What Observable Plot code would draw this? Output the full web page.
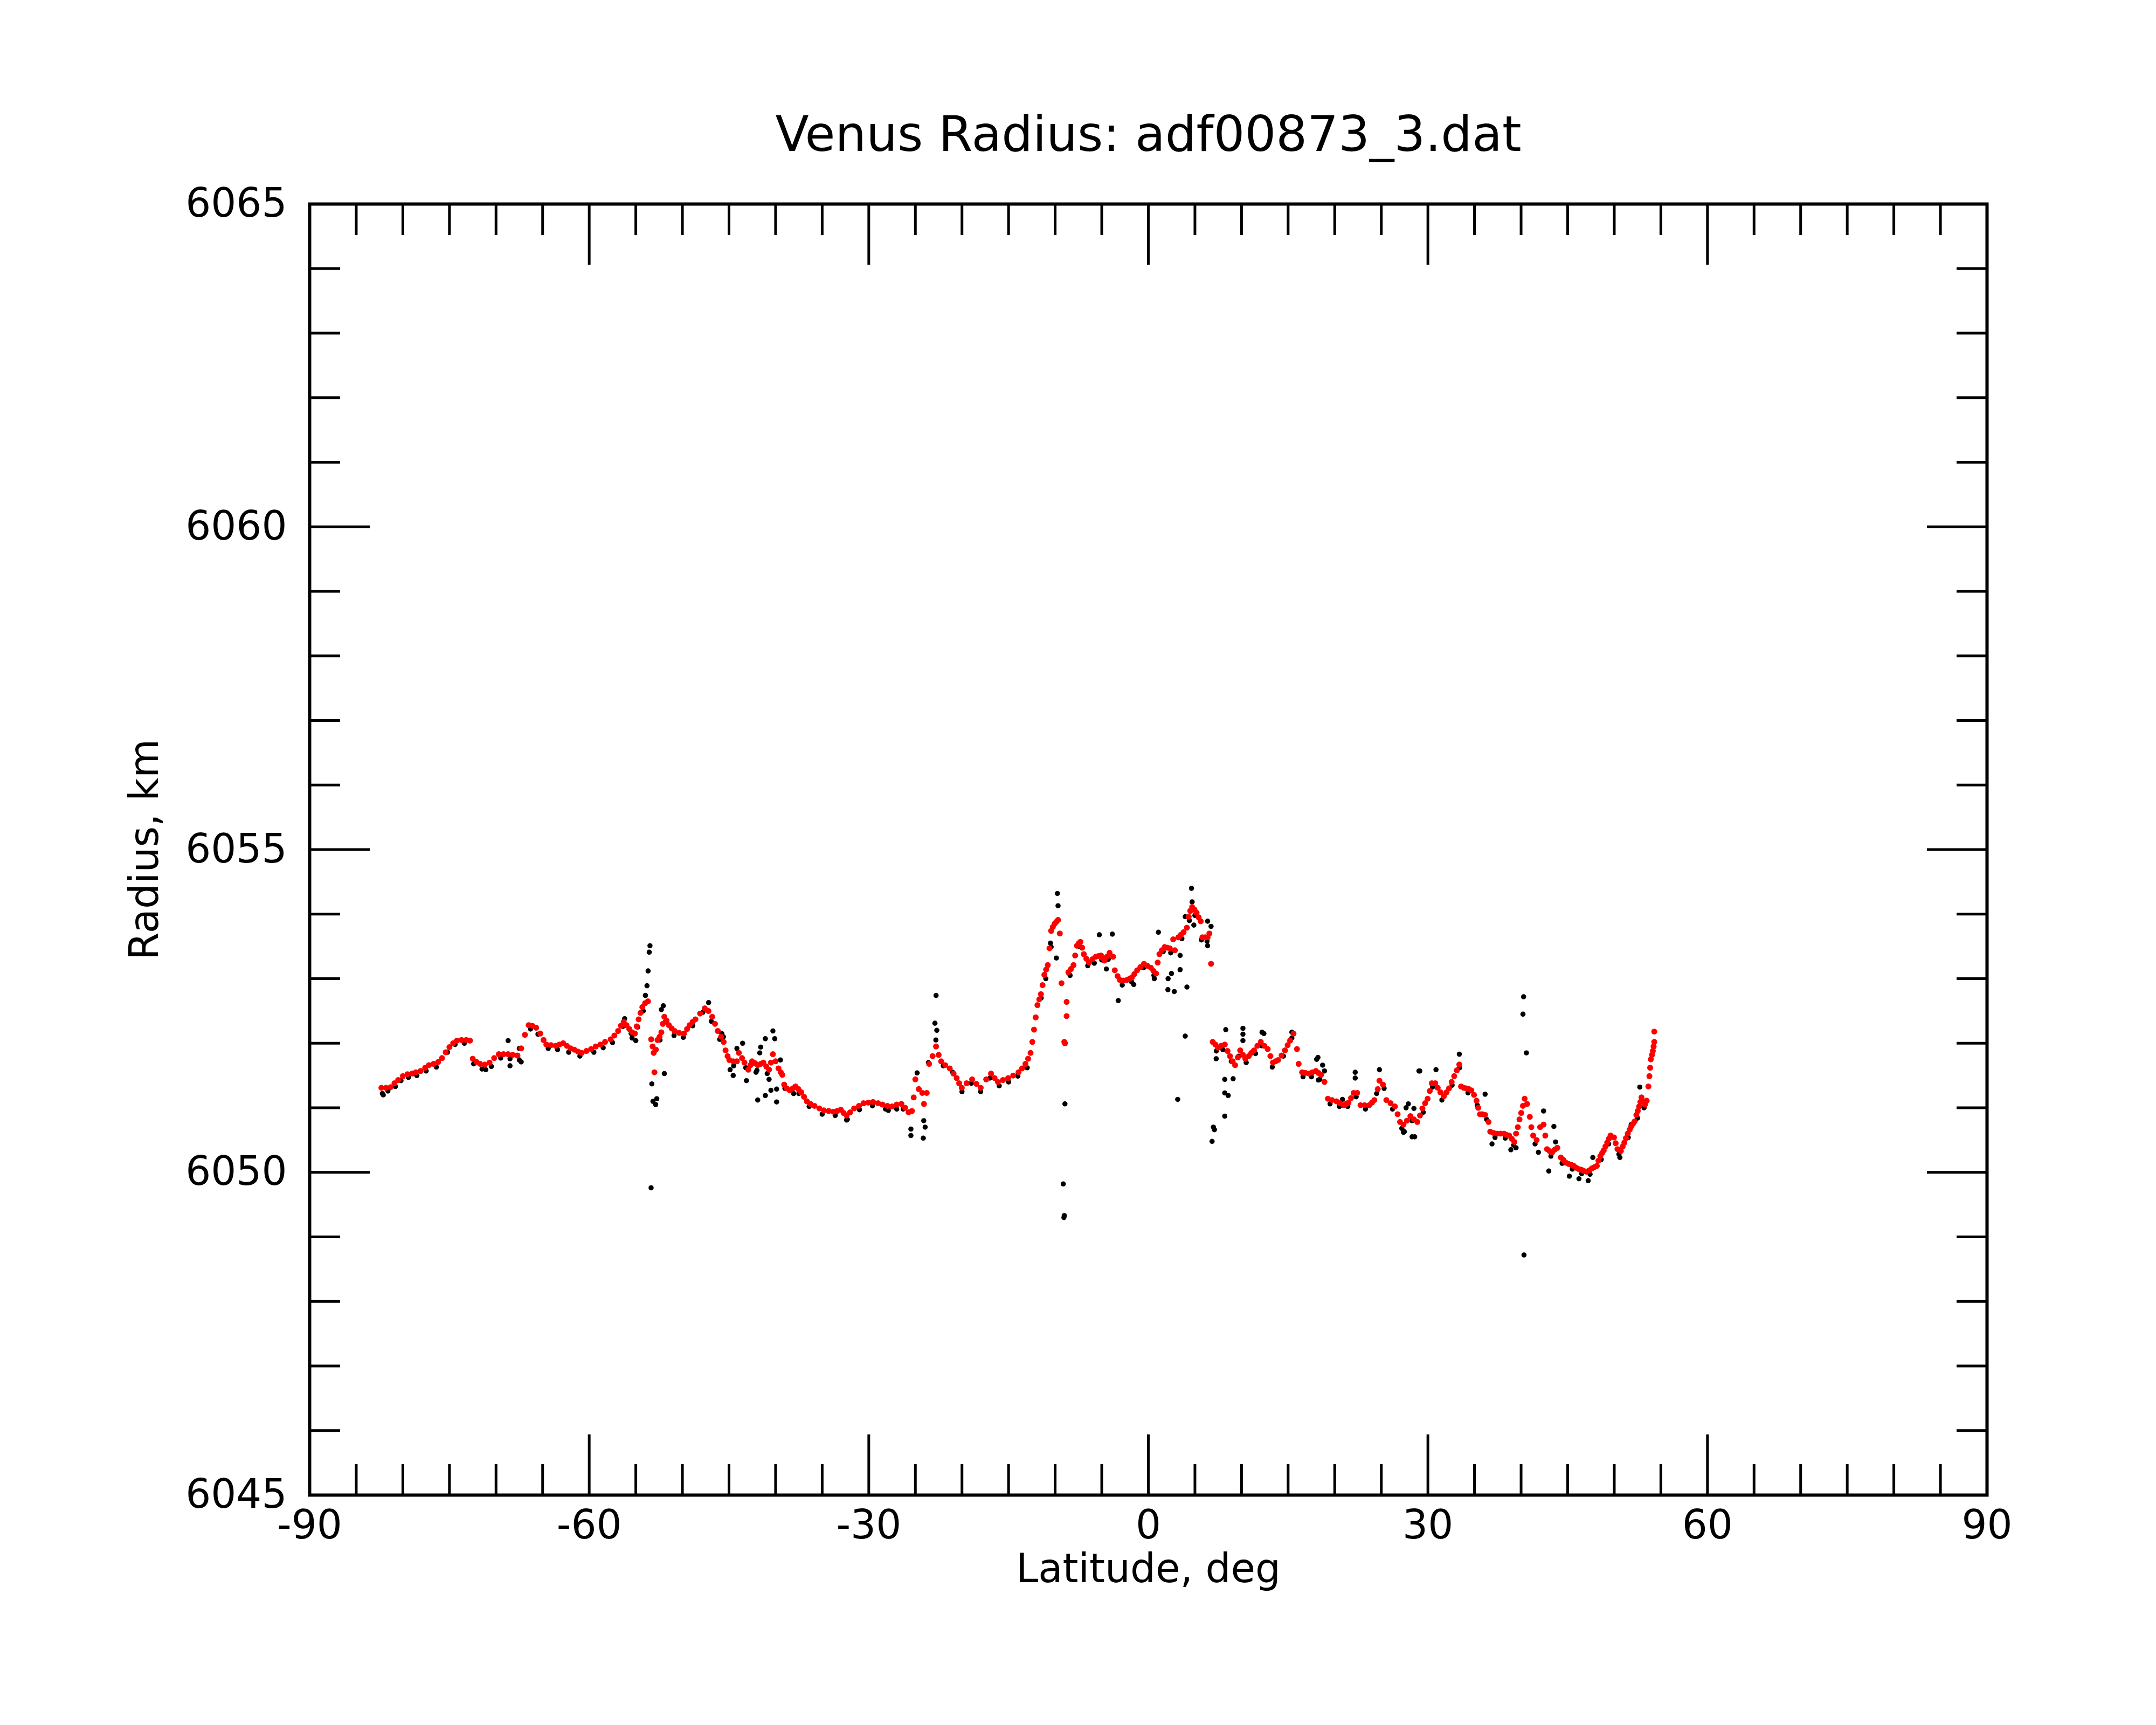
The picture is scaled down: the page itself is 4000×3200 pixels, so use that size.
<!DOCTYPE html>
<html>
<head>
<meta charset="utf-8">
<script src="https://cdn.jsdelivr.net/npm/d3@7"></script>
<script src="https://cdn.jsdelivr.net/npm/@observablehq/plot@0.6"></script>
<style>
html, body { margin: 0; padding: 0; background: #ffffff; }
#chart svg { display: block; }
</style>
</head>
<body>
<div id="chart"></div>
<script>
// ---------- texts ----------
const titleText = "Venus Radius: adf00873_3.dat";
const xLabelText = "Latitude, deg";
const yLabelText = "Radius, km";

// ---------- ticks ----------
const xMajorTicks = [-90, -60, -30, 0, 30, 60, 90];
const xMinorTicks = [-85, -80, -75, -70, -65, -55, -50, -45, -40, -35, -25, -20, -15, -10, -5,
                     5, 10, 15, 20, 25, 35, 40, 45, 50, 55, 65, 70, 75, 80, 85];
const yMajorTicks = [6045, 6050, 6055, 6060, 6065];
const yMinorTicks = [6046, 6047, 6048, 6049, 6051, 6052, 6053, 6054, 6056, 6057, 6058, 6059,
                     6061, 6062, 6063, 6064];

// ---------- smoothed series (red) ----------
const redLat = [
-82.3,-81.8,-81.3,-80.9,-80.5,-80.0,-79.5,-79.0,-78.6,-78.1,-77.6,-77.2,-76.7,-76.2,-75.8,-75.4,-75.0,-74.6,-74.2,-73.7,
-73.2,-72.8,-72.5,-72.1,-71.7,-71.2,-70.7,-70.2,-69.7,-69.2,-68.7,-68.2,-67.7,-67.3,-66.9,-66.5,-66.1,-65.7,-65.25,-64.9,
-64.6,-64.1,-63.6,-63.2,-62.8,-62.4,-62.0,-61.6,-61.2,-60.8,-60.3,-59.8,-59.3,-58.8,-58.3,-57.7,-57.3,-56.9,-56.6,-56.3,
-56.0,-55.7,-55.4,-55.1,-54.9,-54.7,-54.5,-54.3,-54.0,-53.7,-53.35,-53.2,-53.08,-53.0,-52.85,-52.67,-52.45,-52.26,-52.1,-51.94,
-51.7,-51.45,-51.15,-50.84,-50.35,-49.83,-49.5,-49.22,-48.9,-48.6,-48.1,-47.6,-47.2,-46.8,-46.5,-46.2,-45.85,-45.57,-45.37,-45.15,
-44.96,-44.55,-44.15,-43.94,-43.6,-43.34,-42.93,-42.7,-42.53,-42.2,-41.92,-41.6,-41.31,-41.0,-40.7,-40.5,-40.29,-40.0,-39.69,-39.45,
-39.28,-39.08,-38.8,-38.47,-38.15,-37.86,-37.55,-37.25,-36.95,-36.64,-36.25,-35.83,-35.3,-34.82,-34.3,-33.8,-33.4,-33.0,-32.7,-32.38,
-32.0,-31.57,-31.05,-30.56,-30.05,-29.54,-29.0,-28.53,-28.0,-27.5,-27.0,-26.5,-26.1,-25.73,-25.37,-25.18,-25.0,-24.63,-24.26,-24.08,
-23.78,-23.52,-23.15,-22.78,-22.5,-22.23,-21.8,-21.31,-20.9,-20.57,-20.3,-20.02,-19.5,-18.91,-18.45,-17.99,-17.4,-16.88,-16.5,-16.14,
-15.6,-15.04,-14.5,-13.93,-13.55,-13.19,-12.9,-12.64,-12.45,-12.27,-12.09,-11.9,-11.7,-11.53,-11.35,-11.16,-10.97,-10.79,-10.61,-10.43,
-10.25,-10.06,-9.88,-9.69,-9.5,-9.32,-9.02,-8.95,-8.77,-8.77,-8.58,-8.3,-8.03,-7.85,-7.66,-7.45,-7.29,-7.1,-6.92,-6.65,
-6.37,-6.0,-5.63,-5.35,-5.08,-4.9,-4.71,-4.45,-4.16,-3.79,-3.6,-3.3,-3.05,-2.7,-2.31,-2.0,-1.76,-1.5,-1.2,-0.85,
-0.47,-0.1,0.27,0.55,0.83,1.0,1.19,1.45,1.75,2.05,2.3,2.67,2.85,3.22,3.5,3.78,4.14,4.33,4.5,4.7,
4.95,5.18,5.4,5.62,5.8,6.1,6.36,6.55,6.73,6.91,7.2,7.46,7.8,8.2,8.5,8.76,9.05,9.31,9.6,9.86,
10.15,10.41,10.78,11.05,11.34,11.7,12.07,12.45,12.81,13.1,13.37,13.65,13.92,14.3,14.66,14.95,15.21,15.58,15.95,16.13,
16.5,16.85,17.24,17.6,17.98,18.25,18.53,18.9,19.27,19.7,20.19,20.55,20.93,21.2,21.48,21.75,22.04,22.41,22.77,23.2,
23.7,24.0,24.25,24.62,24.8,25.17,25.54,26.0,26.46,26.75,27.01,27.38,27.75,28.12,28.5,28.86,29.15,29.41,29.7,29.97,
30.2,30.42,30.79,31.05,31.34,31.71,32.0,32.27,32.55,32.82,33.1,33.37,33.56,33.85,34.11,34.4,34.66,34.95,35.22,35.4,
35.59,35.85,36.14,36.51,36.69,37.05,37.43,37.8,38.17,38.45,38.72,39.0,39.28,39.46,39.65,39.83,40.01,40.2,40.38,40.64,
40.94,41.1,41.3,41.67,42.04,42.41,42.6,42.78,43.05,43.33,43.6,43.89,44.26,44.55,44.81,45.1,45.37,45.65,45.92,46.2,
46.47,46.75,47.02,47.3,47.58,47.85,48.13,48.3,48.5,48.7,48.87,49.05,49.24,49.42,49.6,49.97,50.15,50.34,50.71,50.9,
51.08,51.25,51.45,51.65,51.82,52.0,52.19,52.37,52.52,52.67,52.8,52.92,53.1,53.29,53.48,53.66,53.77,53.85,53.92,54.05,
54.14,54.22,54.29,54.29
];
const redRadius = [
6051.31,6051.31,6051.32,6051.38,6051.43,6051.49,6051.52,6051.53,6051.55,6051.57,6051.62,6051.66,6051.68,6051.71,6051.77,6051.86,6051.94,6052.00,6052.04,6052.05,
6052.05,6052.04,6051.76,6051.71,6051.68,6051.67,6051.70,6051.77,6051.83,6051.83,6051.83,6051.82,6051.81,6051.92,6052.13,6052.28,6052.27,6052.24,6052.15,6052.05,
6051.98,6051.97,6051.96,6051.98,6052.00,6051.96,6051.92,6051.90,6051.87,6051.85,6051.88,6051.91,6051.95,6051.98,6052.02,6052.06,6052.12,6052.19,6052.27,6052.33,
6052.28,6052.22,6052.17,6052.15,6052.26,6052.37,6052.47,6052.56,6052.62,6052.65,6052.06,6051.95,6051.85,6051.55,6051.90,6052.05,6052.10,6052.17,6052.30,6052.41,
6052.35,6052.28,6052.23,6052.19,6052.16,6052.15,6052.22,6052.28,6052.33,6052.37,6052.46,6052.54,6052.50,6052.41,6052.30,6052.19,6052.10,6052.02,6051.89,6051.80,
6051.74,6051.72,6051.72,6051.85,6051.77,6051.70,6051.59,6051.66,6051.72,6051.69,6051.66,6051.68,6051.70,6051.64,6051.59,6051.70,6051.83,6051.72,6051.61,6051.55,
6051.51,6051.36,6051.30,6051.27,6051.30,6051.33,6051.29,6051.24,6051.17,6051.10,6051.06,6051.03,6050.99,6050.96,6050.95,6050.94,6050.95,6050.97,6050.92,6050.88,
6050.93,6050.99,6051.03,6051.07,6051.08,6051.09,6051.07,6051.05,6051.03,6051.02,6051.05,6051.06,6051.00,6050.93,6050.95,6051.16,6051.44,6051.29,6051.23,6051.06,
6051.23,6051.68,6051.80,6051.95,6051.82,6051.72,6051.66,6051.61,6051.53,6051.46,6051.38,6051.31,6051.38,6051.44,6051.37,6051.31,6051.44,6051.53,6051.46,6051.40,
6051.43,6051.46,6051.50,6051.55,6051.61,6051.68,6051.76,6051.85,6052.02,6052.21,6052.40,6052.59,6052.68,6052.76,6052.90,6053.06,6053.14,6053.21,6053.47,6053.74,
6053.80,6053.85,6053.88,6053.91,6053.70,6052.93,6052.02,6052.00,6052.64,6052.42,6053.10,6053.15,6053.21,6053.36,6053.51,6053.55,6053.57,6053.48,6053.38,6053.31,
6053.25,6053.30,6053.34,6053.35,6053.36,6053.32,6053.28,6053.34,6053.40,6053.34,6053.13,6053.04,6052.98,6052.97,6052.98,6053.00,6053.02,6053.07,6053.13,6053.18,
6053.23,6053.20,6053.17,6053.12,6053.08,6053.25,6053.38,6053.44,6053.49,6053.48,6053.47,6053.61,6053.44,6053.64,6053.68,6053.72,6053.79,6053.96,6054.05,6054.11,
6054.07,6054.02,6053.95,6053.89,6053.64,6053.64,6053.64,6053.70,6053.23,6052.02,6051.98,6051.93,6051.96,6051.98,6051.88,6051.80,6051.72,6051.66,6051.78,6051.89,
6051.82,6051.76,6051.80,6051.85,6051.89,6051.96,6052.02,6051.96,6051.91,6051.80,6051.70,6051.72,6051.74,6051.81,6051.89,6051.97,6052.04,6052.15,6051.91,6051.68,
6051.55,6051.54,6051.53,6051.55,6051.57,6051.54,6051.51,6051.40,6051.14,6051.12,6051.10,6051.07,6051.04,6051.06,6051.08,6051.15,6051.23,6051.23,6051.04,6051.04,
6051.04,6051.08,6051.12,6051.29,6051.42,6051.36,6051.12,6051.07,6051.02,6050.90,6050.78,6050.74,6050.80,6050.87,6050.82,6050.78,6050.88,6050.99,6051.07,6051.14,
6051.26,6051.38,6051.38,6051.31,6051.24,6051.18,6051.24,6051.30,6051.40,6051.49,6051.58,6051.67,6051.33,6051.31,6051.30,6051.29,6051.27,6051.20,6051.11,6051.00,
6050.90,6050.90,6050.89,6050.78,6050.63,6050.61,6050.60,6050.60,6050.60,6050.58,6050.57,6050.52,6050.47,6050.60,6050.70,6050.82,6050.92,6051.03,6051.14,6051.06,
6050.86,6050.70,6050.57,6050.50,6050.70,6050.74,6050.57,6050.36,6050.33,6050.31,6050.35,6050.38,6050.23,6050.19,6050.15,6050.13,6050.12,6050.10,6050.07,6050.05,
6050.04,6050.02,6050.01,6050.03,6050.06,6050.08,6050.10,6050.18,6050.25,6050.30,6050.34,6050.40,6050.46,6050.52,6050.57,6050.54,6050.45,6050.36,6050.33,6050.40,
6050.46,6050.53,6050.60,6050.66,6050.71,6050.75,6050.79,6050.89,6050.95,6051.02,6051.09,6051.16,6051.10,6051.05,6051.11,6051.33,6051.49,6051.62,6051.75,6051.82,
6051.88,6051.95,6052.02,6052.18
];

// ---------- raw series (black) ----------
const blackLat = [
-82.2,-81.6,-80.8,-80.2,-79.4,-78.5,-77.5,-76.4,-75.2,-74.4,-73.4,-72.4,-71.5,-70.5,-69.5,-68.5,-67.5,-66.3,-65.5,-64.4,
-63.4,-62.2,-61.0,-59.5,-58.5,-57.5,-56.4,-55.5,-54.8,-54.2,-52.4,-51.8,-50.9,-49.9,-48.9,-47.8,-46.9,-46.0,-44.5,-43.2,
-42.0,-40.9,-39.0,-37.5,-36.4,-35.0,-33.6,-32.3,-31.0,-29.6,-28.2,-27.0,-26.3,-22.0,-21.0,-20.0,-19.0,-18.0,-17.0,-16.0,
-15.0,-14.0,-13.0,-11.5,-11.0,-10.5,-8.4,-7.4,-6.5,-5.8,-5.0,-4.3,-2.8,-1.8,-0.5,0.6,1.6,2.4,3.6,4.4,
5.0,5.7,6.3,7.3,8.0,8.9,9.7,10.5,11.5,12.2,13.3,14.5,15.4,16.6,17.5,18.4,19.5,20.5,21.4,22.3,
23.3,24.5,25.3,26.2,27.2,28.3,29.5,30.5,31.5,32.6,33.4,34.3,35.3,36.3,37.2,38.3,39.2,41.5,43.2,44.4,
45.5,46.5,47.4,48.6,49.4,50.5,51.5,52.5,53.2,
-82.1,-71.1,-68.7,-68.5,-67.5,-67.3,-56.2,-55.4,-55.0,-53.97,-53.8,-53.68,-53.56,-53.48,-53.28,-53.16,-52.87,-52.75,-53.36,-51.94,
-52.26,-52.05,-47.19,-45.77,-45.6,-44.88,-44.55,-44.15,-43.54,-43.13,-42.1,-41.92,-41.7,-41.6,-41.1,-41.1,-40.7,-40.5,-40.29,-40.09,
-39.89,-39.89,-39.48,-38.06,-32.38,-27.9,-25.48,-25.48,-24.81,-24.1,-23.95,-24.15,-23.6,-22.78,-22.9,-22.7,-22.8,-10.43,-9.87,-9.76,
-9.69,-8.95,-9.13,-9.02,-9.06,-5.26,-3.86,-4.5,-3.23,-1.57,0.64,1.08,2.12,2.48,2.1,2.78,3.41,3.41,4.14,3.96,
3.15,3.96,4.63,4.7,4.88,6.36,6.73,6.36,7.28,8.2,9.1,8.2,8.57,8.2,6.98,7.09,6.84,8.31,10.15,10.15,
10.15,12.4,12.2,15.4,18.2,18.7,18.9,18.06,18.25,20.83,22.2,22.2,24.8,27.9,28.5,28.3,27.38,27.66,29.04,29.13,
30.87,28.58,27.47,33.37,36.14,36.88,38.9,39.46,40.27,40.2,40.57,40.31,42.41,43.52,43.7,41.86,42.97,45.18,46.21,47.2,
47.7,52.74,51.82,50.6
];
const blackRadius = [
6051.22,6051.26,6051.33,6051.42,6051.47,6051.50,6051.57,6051.63,6051.86,6051.98,6052.00,6051.68,6051.60,6051.64,6051.77,6051.76,6051.74,6052.22,6052.14,6051.92,
6051.90,6051.86,6051.80,6051.86,6051.93,6052.01,6052.26,6052.15,6052.25,6052.50,6052.05,6052.34,6052.12,6052.09,6052.27,6052.48,6052.34,6052.06,6051.65,6051.62,
6051.58,6051.53,6051.30,6051.22,6051.02,6050.90,6050.88,6050.82,6050.97,6051.03,6050.98,6050.98,6050.98,6051.65,6051.55,6051.25,6051.38,6051.25,6051.46,6051.34,
6051.40,6051.49,6051.62,6052.70,6053.00,6053.55,6053.05,6053.50,6053.20,6053.24,6053.29,6053.30,6052.90,6052.95,6053.17,6053.05,6053.42,6053.40,6053.62,6053.90,
6053.98,6053.60,6053.58,6051.88,6051.90,6051.72,6051.80,6051.70,6051.84,6051.96,6051.63,6051.80,6052.08,6051.48,6051.48,6051.44,6051.06,6051.02,6051.02,6051.17,
6050.98,6051.22,6051.30,6050.98,6050.68,6050.80,6050.93,6051.32,6051.12,6051.35,6051.62,6051.23,6051.04,6050.82,6050.54,6050.53,6050.42,6050.44,6050.25,6050.14,
6050.05,6049.98,6049.97,6050.20,6050.44,6050.28,6050.54,6050.84,6051.00,
6051.20,6051.59,6052.04,6051.65,6051.92,6051.71,6052.38,6052.08,6052.04,6052.74,6052.89,6053.12,6053.41,6053.51,6051.37,6051.10,6051.05,6051.14,6049.76,6051.53,
6052.52,6052.58,6052.63,6052.15,6052.10,6051.59,6051.50,6051.92,6052.00,6051.42,6051.55,6051.12,6051.85,6051.94,6052.07,6051.19,6051.44,6051.27,6052.19,6052.07,
6051.09,6051.29,6051.74,6051.22,6050.81,6050.96,6050.67,6050.57,6051.54,6050.80,6050.70,6050.53,6051.70,6052.74,6052.31,6052.20,6052.05,6053.49,6053.32,6054.32,
6054.13,6051.06,6049.82,6049.33,6049.30,6053.68,6053.69,6053.15,6052.66,6052.91,6053.00,6053.72,6053.00,6053.08,6052.83,6052.80,6053.14,6053.36,6052.87,6052.11,
6051.13,6053.96,6054.40,6054.19,6053.83,6053.89,6053.81,6053.51,6051.76,6051.44,6051.45,6051.23,6051.19,6050.87,6050.70,6050.66,6050.48,6052.21,6052.23,6052.14,
6052.04,6052.15,6052.17,6052.17,6051.78,6051.66,6051.57,6051.75,6051.43,6051.13,6051.55,6051.46,6051.59,6051.06,6050.99,6050.55,6050.62,6051.00,6051.57,6051.57,
6051.59,6050.55,6050.63,6051.83,6051.21,6050.44,6050.35,6050.38,6052.72,6052.45,6051.85,6048.72,6050.95,6050.71,6050.47,6050.31,6050.02,6049.94,6049.90,6049.87,
6050.23,6051.32,6050.74,6050.23
];

// ---------- tables built from the arrays ----------
const red = redLat.map((lat, i) => ({lat, r: redRadius[i]}));
const black = blackLat.map((lat, i) => ({lat, r: blackRadius[i]}));

const tickStyle = {strokeWidth: 5, stroke: "#000", tickFormat: () => "", label: null};
const font = "'DejaVu Sans', 'Liberation Sans', sans-serif";

const chart = Plot.plot({
  width: 4000,
  height: 3200,
  marginLeft: 574,
  marginRight: 314,
  marginTop: 378,
  marginBottom: 427,
  x: {domain: [-90, 90]},
  y: {domain: [6045, 6065]},
  style: {fontFamily: font, background: "#ffffff", color: "#000000"},
  marks: [
    Plot.dot(black, {x: "lat", y: "r", r: 4.8, fill: "#000000", stroke: "none"}),
    Plot.dot(red, {x: "lat", y: "r", r: 5.5, fill: "#ff0000", stroke: "none"}),
    Plot.frame({stroke: "#000000", strokeWidth: 6}),
    // x ticks, bottom and top, pointing inward
    Plot.axisX(xMinorTicks, {anchor: "bottom", tickSize: -57, ...tickStyle}),
    Plot.axisX(xMajorTicks, {anchor: "bottom", tickSize: -112, ...tickStyle}),
    Plot.axisX(xMinorTicks, {anchor: "top", tickSize: -57, ...tickStyle}),
    Plot.axisX(xMajorTicks, {anchor: "top", tickSize: -112, ...tickStyle}),
    // y ticks, left and right, pointing inward
    Plot.axisY(yMinorTicks, {anchor: "left", tickSize: -57, ...tickStyle}),
    Plot.axisY(yMajorTicks, {anchor: "left", tickSize: -112, ...tickStyle}),
    Plot.axisY(yMinorTicks, {anchor: "right", tickSize: -57, ...tickStyle}),
    Plot.axisY(yMajorTicks, {anchor: "right", tickSize: -112, ...tickStyle}),
    // tick labels
    Plot.axisX(xMajorTicks, {anchor: "bottom", tickSize: 0, tickPadding: 28, fontSize: 74,
      tickFormat: d => String(d), label: null, fill: "#000"}),
    Plot.axisY(yMajorTicks, {anchor: "left", tickSize: 0, tickPadding: 42, fontSize: 74,
      tickFormat: d => String(d), label: null, fill: "#000"}),
    // title and axis titles
    Plot.text([titleText], {text: d => d, frameAnchor: "top", lineAnchor: "bottom", dy: -99,
      fontSize: 91, fill: "#000"}),
    Plot.text([xLabelText], {text: d => d, frameAnchor: "bottom", lineAnchor: "bottom", dy: 161,
      fontSize: 74, fill: "#000"}),
    Plot.text([yLabelText], {text: d => d, frameAnchor: "left", textAnchor: "middle", lineAnchor: "bottom",
      rotate: -90, dx: -282, fontSize: 74, fill: "#000"})
  ]
});
document.getElementById("chart").appendChild(chart);
</script>
</body>
</html>
